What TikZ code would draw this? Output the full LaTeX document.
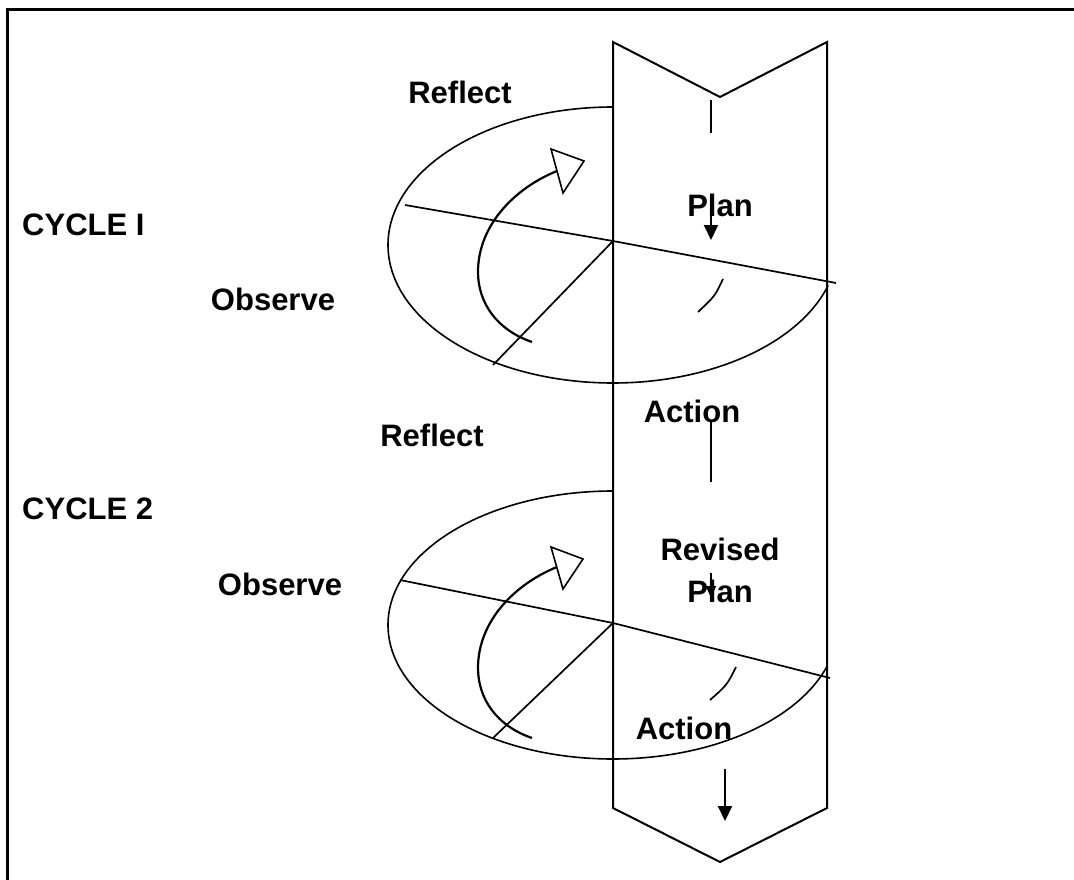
\documentclass[tikz,border=0pt]{standalone}
\usepackage{fontspec}
\setmainfont{Liberation Sans}
\usetikzlibrary{arrows.meta}
\begin{document}
\begin{tikzpicture}[x=1pt,y=-1pt,
  lbl/.style={font=\fontsize{31}{35}\selectfont\bfseries, inner sep=0pt, anchor=center},
  frame/.style={line width=3pt},
  band/.style={line width=2pt, line join=miter},
  ell/.style={line width=1.6pt},
  guide/.style={line width=1.7pt},
  turn/.style={line width=2.2pt},
  openhead/.style={line width=1.6pt, line join=miter},
  downarrow/.style={line width=2pt, -{Triangle[length=15pt,width=14pt]}},
  smallarrow/.style={line width=1.6pt, -{Triangle[length=12pt,width=10pt]}}
]
\useasboundingbox (0,0) rectangle (1074,880);
% frame
\draw[frame] (7.5,880) -- (7.5,10) -- (1074,10);

% band (big chevron arrow)
\draw[band] (613,808) -- (613,42) -- (720,97) -- (827,42) -- (827,808) -- (720,862) -- cycle;

% ---- cycle 1 ----
\coordinate (c1) at (613,241);
\draw[ell] (613,107) arc[start angle=270, end angle=17, x radius=225, y radius=138];
\draw[guide] (405,205) -- (c1) -- (836,283);
\draw[guide] (c1) -- (493,365);
\draw[turn] (532,342) .. controls (497,330) and (478,303) .. (478,272)
            .. controls (478,225) and (515,188) .. (557,171);
\draw[openhead, fill=white] (551,149) -- (584,161) -- (563,193) -- cycle;
\draw[guide] (723,279) .. controls (715,296) .. (698,312);

% ---- cycle 2 ----
\coordinate (c2) at (613,623);
\draw[ell] (613,491) arc[start angle=270, end angle=18, x radius=225, y radius=134];
\draw[guide] (400,580) -- (c2) -- (830,678);
\draw[guide] (c2) -- (493,738);
\begin{scope}[shift={(0,396)}]
\draw[turn] (532,342) .. controls (497,330) and (478,303) .. (478,272)
            .. controls (478,225) and (515,188) .. (557,171);
\draw[openhead, fill=white] (551,151) -- (583,163) -- (563,193) -- cycle;
\end{scope}
\draw[guide] (736,667) .. controls (727,685) .. (710,700);

% ---- labels ----
\node[lbl] (reflect1) at (460,92) {Reflect};
\node[lbl, anchor=west] (cycle1) at (22,225) {CYCLE I};
\node[lbl] (observe1) at (273,299) {Observe};
\node[lbl] (reflect2) at (432,435) {Reflect};
\node[lbl, anchor=west] (cycle2) at (22,509) {CYCLE 2};
\node[lbl] (observe2) at (280,584) {Observe};
\node[lbl] (plan1) at (720,205) {Plan};
\node[lbl] (action1) at (692,411) {Action};
\node[lbl] (revised) at (720,549) {Revised};
\node[lbl] (plan2) at (720,591) {Plan};
\node[lbl] (action2) at (684,728) {Action};

% ---- vertical flow marks inside band ----
\coordinate (t1a) at (711,100);
\coordinate (t1b) at (711,133);
\draw[guide] (t1a) -- (t1b);
\coordinate (p1a) at (711,198);
\coordinate (p1b) at (711,240);
\draw[downarrow] (p1a) -- (p1b);
\coordinate (a1a) at (711,420);
\coordinate (a1b) at (711,482);
\draw[guide] (a1a) -- (a1b);
\coordinate (p2a) at (711,573);
\coordinate (p2b) at (711,598);
\draw[smallarrow] (p2a) -- (p2b);
\coordinate (a2a) at (725,769);
\coordinate (a2b) at (725,821);
\draw[downarrow] (a2a) -- (a2b);
\end{tikzpicture}
\end{document}
